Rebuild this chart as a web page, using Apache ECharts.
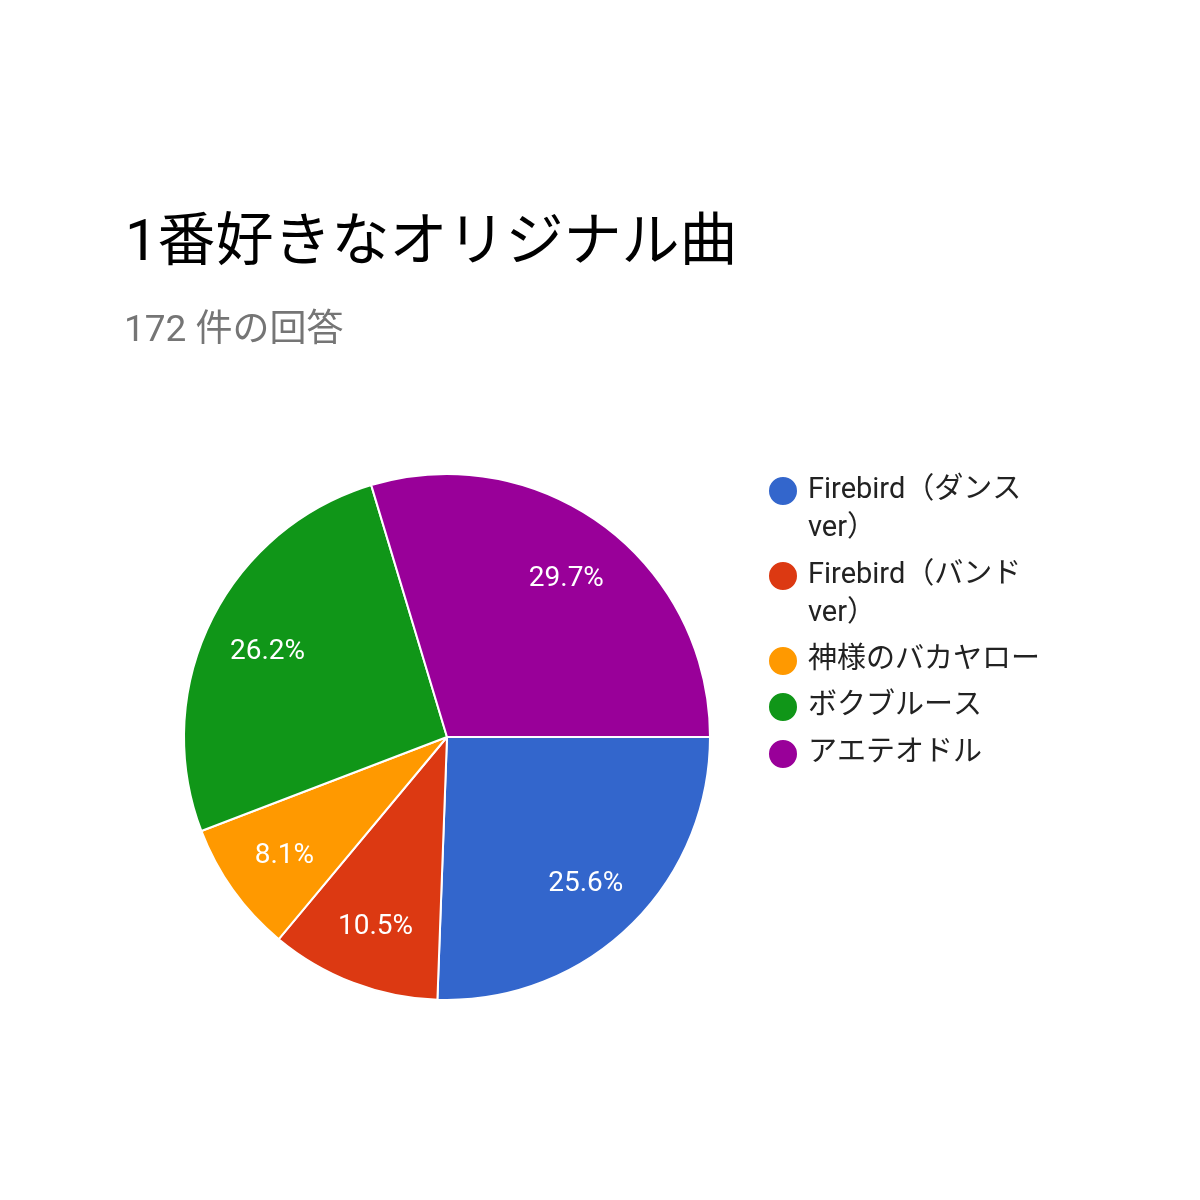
<!DOCTYPE html>
<html><head><meta charset="utf-8">
<script src="https://cdn.jsdelivr.net/npm/echarts@6/dist/echarts.min.js"></script>
<style>html,body{margin:0;padding:0;background:#fff}#c{width:1200px;height:1200px}</style>
</head><body><div id="c"></div>
<script>
const titleText = '1番好きなオリジナル曲';
const subtitleText = '172 件の回答';
const categories = ['Firebird（ダンス ver）', 'Firebird（バンド ver）', '神様のバカヤロー', 'ボクブルース', 'アエテオドル'];
const counts = [44, 18, 14, 45, 51];
const colors = ['#3366cc', '#dc3912', '#ff9900', '#109618', '#990099'];
const twoLineLegend = [true, true, false, false, false];
const legendIconCenters = [489, 574, 659, 705, 752];

const font = "Roboto, 'Noto Sans CJK JP', sans-serif";
const total = counts.reduce((a, b) => a + b, 0);
const LH = 38;
const data = categories.map((n, i) => ({ name: n, value: counts[i], itemStyle: { color: colors[i] } }));
const legends = categories.map((n, i) => ({
  orient: 'vertical', left: 767,
  top: legendIconCenters[i] + 2 - (twoLineLegend[i] ? 1.5 * LH : 0.5 * LH),
  padding: 0, icon: 'circle', itemWidth: 30, itemHeight: 30,
  data: [n],
  formatter: twoLineLegend[i] ? '\n{name}' : '{name}',
  textStyle: { fontFamily: font, fontSize: 29, color: '#222', lineHeight: LH, width: 240, overflow: 'break', padding: [0, 0, 0, 5] }
}));
const chart = echarts.init(document.getElementById('c'));
chart.setOption({
  backgroundColor: '#fff',
  animation: false,
  title: [
    { text: titleText, left: 120, top: 211, textStyle: { fontFamily: font, fontSize: 58, fontWeight: 'normal', color: '#000' } },
    { text: subtitleText, left: 119, top: 308, textStyle: { fontFamily: font, fontSize: 37, fontWeight: 'normal', color: '#757575' } }
  ],
  legend: legends,
  series: [
    {
      type: 'pie', center: [447, 737], radius: [0, 263], startAngle: 0, clockwise: true,
      itemStyle: { borderColor: '#fff', borderWidth: 2 },
      label: { show: false }, labelLine: { show: false },
      data: data
    },
    {
      type: 'pie', center: [447, 737], radius: [131, 263], startAngle: 0, clockwise: true, silent: true, z: 5,
      itemStyle: { color: 'rgba(0,0,0,0)', borderWidth: 0 },
      label: { show: true, position: 'inside', color: '#fff', fontFamily: font, fontSize: 28, offset: [0, 3],
        formatter: p => (p.value / total * 100).toFixed(1) + '%' },
      labelLine: { show: false },
      data: categories.map((n, i) => ({ name: n, value: counts[i], itemStyle: { color: 'rgba(0,0,0,0)' } }))
    }
  ]
});
</script></body></html>
